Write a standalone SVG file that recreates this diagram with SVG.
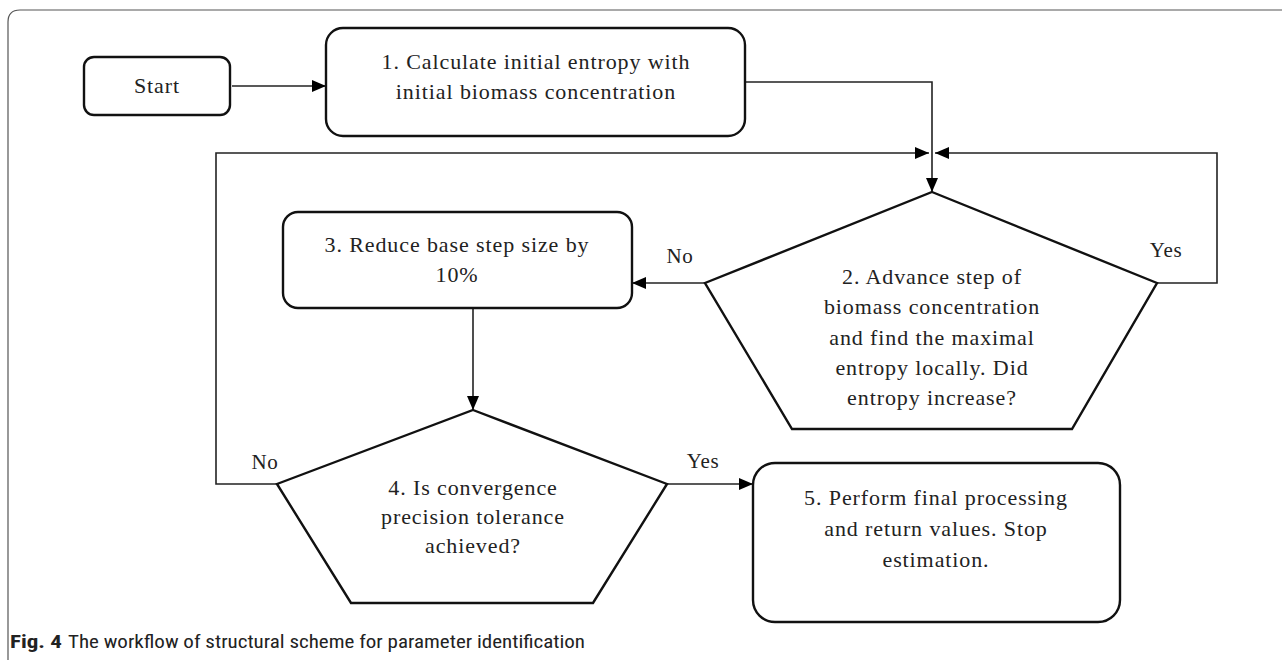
<svg xmlns="http://www.w3.org/2000/svg" width="1282" height="660" viewBox="0 0 1282 660">
<style>
.node{fill:#fff;stroke:#111;stroke-width:2.4}
.conn{fill:none;stroke:#222;stroke-width:1.6}
.t{font-family:"Liberation Serif","Times New Roman",serif;font-size:22px;letter-spacing:0.9px;fill:#222;text-anchor:middle}
.lbl{font-family:"Liberation Serif","Times New Roman",serif;font-size:21px;letter-spacing:0.6px;fill:#222;text-anchor:middle}
.cap{font-family:"Liberation Sans Narrow","Roboto Condensed","Liberation Sans",sans-serif;font-size:19px;fill:#222}
</style>
<defs>
<marker id="arr" viewBox="0 0 14 12" refX="14" refY="6" markerWidth="14" markerHeight="12" markerUnits="userSpaceOnUse" orient="auto">
<path d="M0,0 L14,6 L0,12 Z" fill="#000"/>
</marker>
</defs>
<rect width="1282" height="660" fill="#fff"/>
<path d="M8,660 V22 Q8,10 20,10 H1282" fill="none" stroke="#555" stroke-width="1.2"/>
<g id="connectors">
<line class="conn" x1="232" y1="86" x2="326" y2="86" marker-end="url(#arr)"/>
<polyline class="conn" points="745,82 932,82 932,192" marker-end="url(#arr)"/>
<polyline class="conn" points="277,484 216,484 216,153 929,153" marker-end="url(#arr)"/>
<polyline class="conn" points="1157,283 1217,283 1217,153 935,153" marker-end="url(#arr)"/>
<line class="conn" x1="705" y1="283" x2="632" y2="283" marker-end="url(#arr)"/>
<line class="conn" x1="473" y1="308" x2="473" y2="410" marker-end="url(#arr)"/>
<line class="conn" x1="667" y1="484" x2="753" y2="484" marker-end="url(#arr)"/>
<text class="lbl" x="680" y="263">No</text>
<text class="lbl" x="1166" y="257">Yes</text>
<text class="lbl" x="265" y="469">No</text>
<text class="lbl" x="703" y="468">Yes</text>
</g>
<g id="start">
<rect class="node" x="84" y="57" width="146" height="58" rx="10"/>
<text class="t" x="157" y="93">Start</text>
</g>
<g id="step1">
<rect class="node" x="326" y="28" width="419" height="108" rx="17"/>
<text class="t" x="536" y="69">1. Calculate initial entropy with</text>
<text class="t" x="536" y="99">initial biomass concentration</text>
</g>
<g id="step2">
<polygon class="node" points="932,192 1157,283 1072,429 792,429 705,283"/>
<text class="t" x="932" y="284">2. Advance step of</text>
<text class="t" x="932" y="314">biomass concentration</text>
<text class="t" x="932" y="345">and find the maximal</text>
<text class="t" x="932" y="375">entropy locally. Did</text>
<text class="t" x="932" y="405">entropy increase?</text>
</g>
<g id="step3">
<rect class="node" x="283" y="212" width="349" height="96" rx="15"/>
<text class="t" x="457" y="252">3. Reduce base step size by</text>
<text class="t" x="457" y="282">10%</text>
</g>
<g id="step4">
<polygon class="node" points="473,410 667,484 593,603 351,603 277,484"/>
<text class="t" x="473" y="495">4. Is convergence</text>
<text class="t" x="473" y="524">precision tolerance</text>
<text class="t" x="473" y="553">achieved?</text>
</g>
<g id="step5">
<rect class="node" x="753" y="463" width="367" height="159" rx="22"/>
<text class="t" x="936" y="505">5. Perform final processing</text>
<text class="t" x="936" y="536">and return values. Stop</text>
<text class="t" x="936" y="567">estimation.</text>
</g>
<text class="cap" x="10" y="648"><tspan font-weight="bold" textLength="52" lengthAdjust="spacingAndGlyphs">Fig. 4</tspan><tspan x="68" textLength="517" lengthAdjust="spacingAndGlyphs">The workflow of structural scheme for parameter identification</tspan></text>
</svg>
